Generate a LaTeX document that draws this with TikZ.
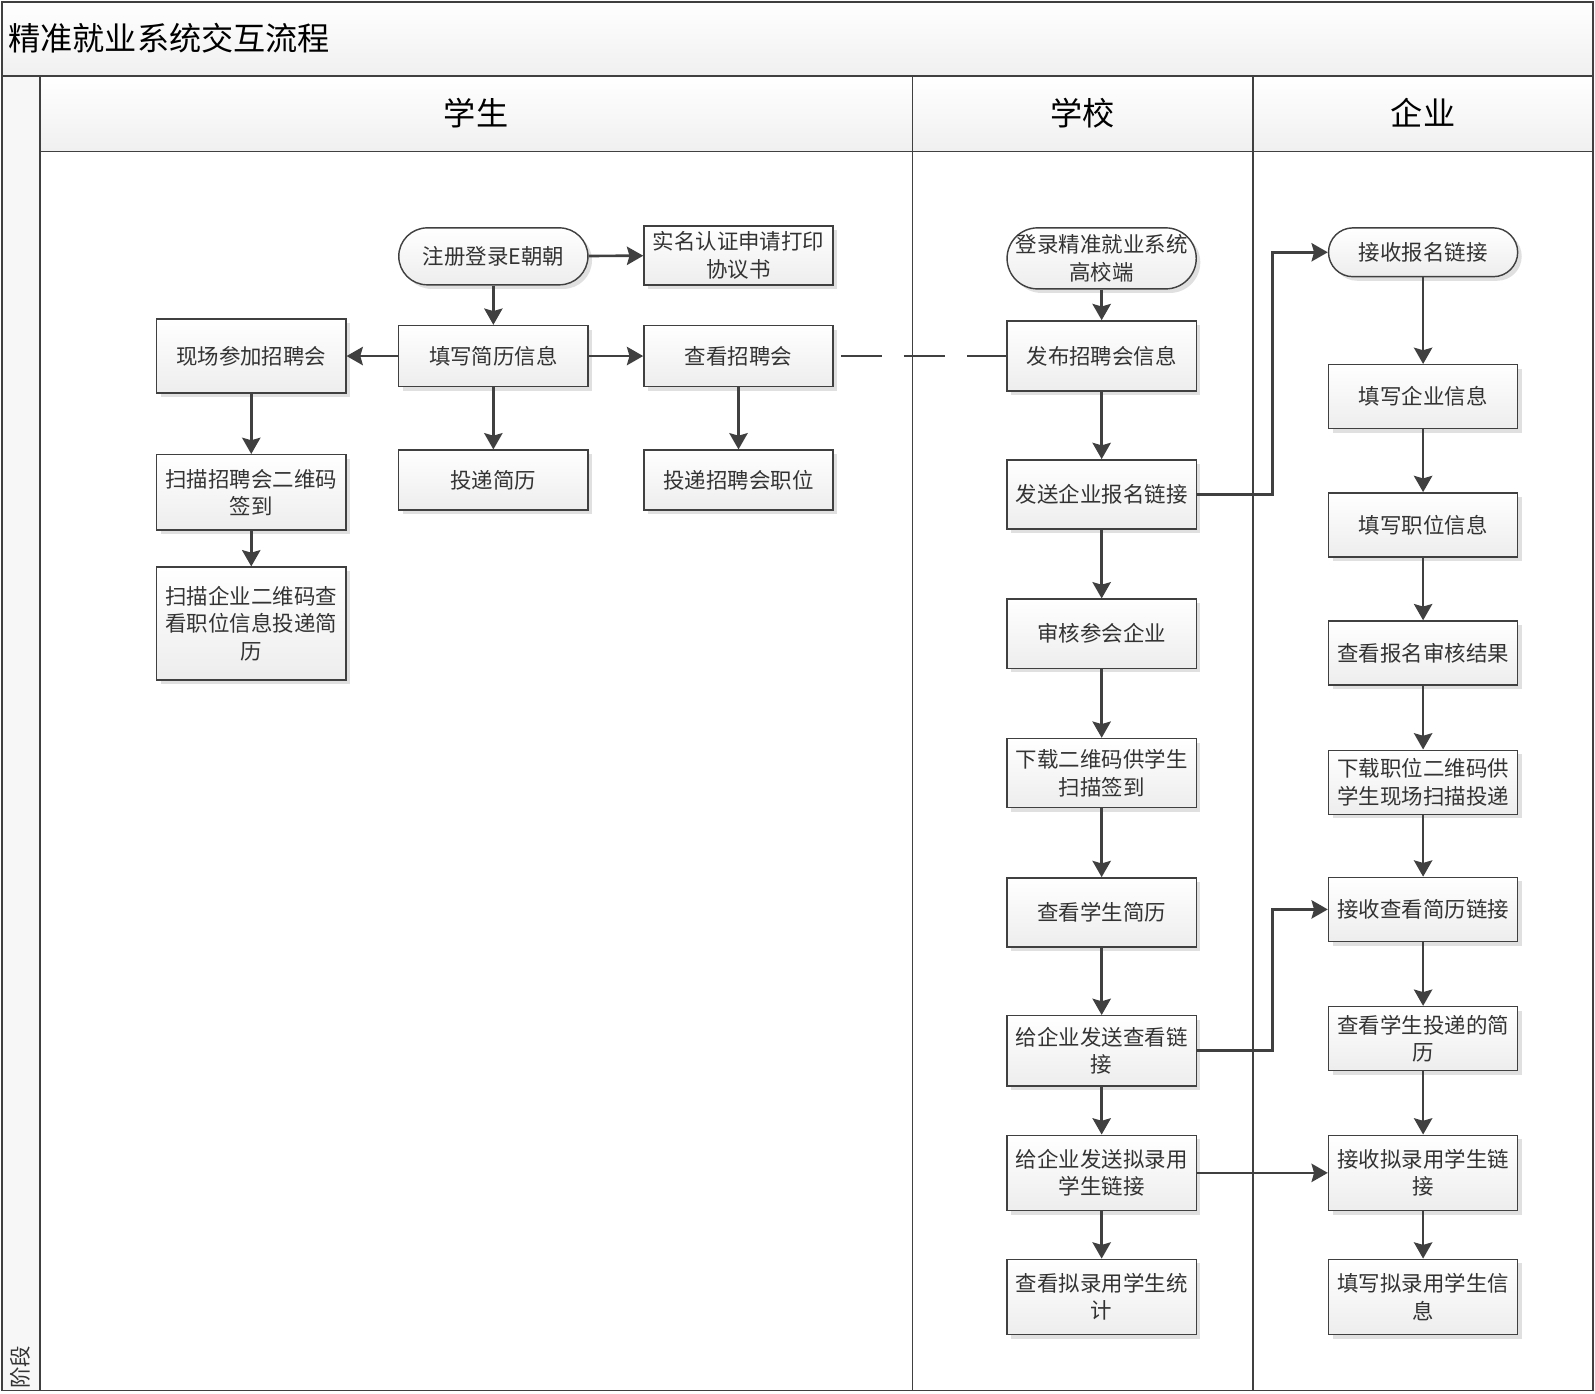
\documentclass[tikz,border=0pt]{standalone}
\usepackage{fontspec}
\setmainfont{Noto Sans CJK SC}
\usetikzlibrary{arrows.meta,shadows}
\definecolor{linegray}{HTML}{404040}
\definecolor{textgray}{HTML}{333333}

\begin{document}
\begin{tikzpicture}[x=0.02cm,y=-0.02cm,
  proc/.style={draw=linegray,line width=0.8pt,top color=white,bottom color=gray!14,
    drop shadow={shadow xshift=0.08cm,shadow yshift=-0.08cm,fill=gray!40,opacity=0.6},
    minimum width=3.72cm,align=center,text=textgray,font=\fontsize{12}{15.3}\selectfont,inner sep=2pt},
  term/.style={proc,rounded corners=#1},
  arr/.style={draw=linegray,line width=1.5pt,-{Stealth[length=0.32cm,width=0.36cm,inset=0.05cm]}},
  lane/.style={draw=linegray,line width=1pt}]
  \useasboundingbox (0,0) rectangle (1568,1370);
  % title, lane headers and frame
  \shade[top color=white,bottom color=gray!12] (2,2) rectangle (1566,75);
  \shade[top color=white,bottom color=gray!12] (39,75) rectangle (1566,149);
  \fill[gray!6] (2,75) rectangle (39,1367);
  \draw[lane] (2,2) rectangle (1566,1367);
  \draw[lane] (2,75) -- (1566,75);
  \draw[lane] (39,149) -- (1566,149);
  \draw[lane] (39,75) -- (39,1367);
  \draw[lane] (897,75) -- (897,1367);
  \draw[lane] (1232,75) -- (1232,1367);
  \node[anchor=west,font=\fontsize{18}{20}\selectfont] (title) at (2,38) {精准就业系统交互流程};
  \node[font=\fontsize{18}{20}\selectfont] (hstu) at (468,111) {学生};
  \node[font=\fontsize{18}{20}\selectfont] (hsch) at (1064,111) {学校};
  \node[font=\fontsize{18}{20}\selectfont] (hcom) at (1399,111) {企业};
  \node[rotate=90,font=\fontsize{12}{14}\selectfont,text=textgray] (stage) at (20,1344) {阶段};

  % student
  \node[term=0.56cm,minimum height=1.12cm] (zcdl) at (485,252) {注册登录E朝朝};
  \node[proc,minimum height=1.16cm] (smrz) at (726,251) {实名认证申请打印\\协议书};
  \node[proc,minimum height=1.2cm] (txjl) at (485,350) {填写简历信息};
  \node[proc,minimum height=1.46cm] (xccj) at (247,350) {现场参加招聘会};
  \node[proc,minimum height=1.2cm] (ckzph) at (726,350) {查看招聘会};
  \node[proc,minimum height=1.18cm] (tdjl) at (485,472) {投递简历};
  \node[proc,minimum height=1.18cm] (tdzw) at (726,472) {投递招聘会职位};
  \node[proc,minimum height=1.48cm] (smqd) at (247,484) {扫描招聘会二维码\\签到};
  \node[proc,minimum height=2.22cm] (smqy) at (247,613) {扫描企业二维码查\\看职位信息投递简\\历};

  % school
  \node[term=0.6cm,minimum height=1.2cm] (dlxt) at (1083,254) {登录精准就业系统\\高校端};
  \node[proc,minimum height=1.38cm] (fbxx) at (1083,350) {发布招聘会信息};
  \node[proc,minimum height=1.36cm] (fsbm) at (1083,486) {发送企业报名链接};
  \node[proc,minimum height=1.36cm] (shqy) at (1083,623) {审核参会企业};
  \node[proc,minimum height=1.36cm] (xzewm) at (1083,760) {下载二维码供学生\\扫描签到};
  \node[proc,minimum height=1.36cm] (ckjl) at (1083,897) {查看学生简历};
  \node[proc,minimum height=1.38cm] (fsck) at (1083,1033) {给企业发送查看链\\接};
  \node[proc,minimum height=1.48cm] (fsly) at (1083,1153) {给企业发送拟录用\\学生链接};
  \node[proc,minimum height=1.48cm] (ckly) at (1083,1275) {查看拟录用学生统\\计};

  % company
  \node[term=0.48cm,minimum height=0.96cm] (jsbm) at (1399,248) {接收报名链接};
  \node[proc,minimum height=1.26cm] (txqy) at (1399,390) {填写企业信息};
  \node[proc,minimum height=1.26cm] (txzw) at (1399,516) {填写职位信息};
  \node[proc,minimum height=1.26cm] (ckjg) at (1399,642) {查看报名审核结果};
  \node[proc,minimum height=1.26cm] (xzzw) at (1399,769) {下载职位二维码供\\学生现场扫描投递};
  \node[proc,minimum height=1.26cm] (jsck) at (1399,894) {接收查看简历链接};
  \node[proc,minimum height=1.26cm] (cktd) at (1399,1021) {查看学生投递的简\\历};
  \node[proc,minimum height=1.48cm] (jsly) at (1399,1153) {接收拟录用学生链\\接};
  \node[proc,minimum height=1.48cm] (txly) at (1399,1275) {填写拟录用学生信\\息};

  \coordinate (jx) at (1251,0);

  % student arrows
  \draw[arr] (zcdl) -- (smrz);
  \draw[arr] (zcdl) -- (txjl);
  \draw[arr] (txjl) -- (xccj);
  \draw[arr] (txjl) -- (ckzph);
  \draw[arr] (txjl) -- (tdjl);
  \draw[arr] (ckzph) -- (tdzw);
  \draw[arr] (xccj) -- (smqd);
  \draw[arr] (smqd) -- (smqy);
  \draw[draw=linegray,line width=1.5pt,dash pattern=on 0.8cm off 0.44cm,shorten <=0.14cm] (ckzph.east) -- (fbxx.west);

  % school arrows
  \draw[arr] (dlxt) -- (fbxx);
  \draw[arr] (fbxx) -- (fsbm);
  \draw[arr] (fsbm) -- (shqy);
  \draw[arr] (shqy) -- (xzewm);
  \draw[arr] (xzewm) -- (ckjl);
  \draw[arr] (ckjl) -- (fsck);
  \draw[arr] (fsck) -- (fsly);
  \draw[arr] (fsly) -- (ckly);
  \draw[arr] (fsbm.east) -- (fsbm.east -| jx) |- (jsbm.west);
  \draw[arr] (fsck.east) -- (fsck.east -| jx) |- (jsck.west);
  \draw[arr] (fsly) -- (jsly);

  % company arrows
  \draw[arr] (jsbm) -- (txqy);
  \draw[arr] (txqy) -- (txzw);
  \draw[arr] (txzw) -- (ckjg);
  \draw[arr] (ckjg) -- (xzzw);
  \draw[arr] (xzzw) -- (jsck);
  \draw[arr] (jsck) -- (cktd);
  \draw[arr] (cktd) -- (jsly);
  \draw[arr] (jsly) -- (txly);
\end{tikzpicture}
\end{document}
